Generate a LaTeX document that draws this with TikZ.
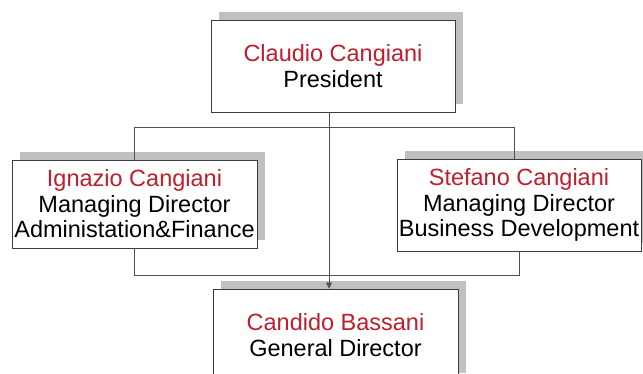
\documentclass[tikz,border=0pt]{standalone}
\usepackage{fontspec}
\setmainfont{Liberation Sans}
\usetikzlibrary{arrows.meta,calc,shadows}
\definecolor{namered}{RGB}{190,30,45}
\definecolor{shadowgray}{RGB}{192,192,192}
\definecolor{boxline}{RGB}{60,60,60}
\definecolor{linegray}{RGB}{80,80,80}
\begin{document}
\begin{tikzpicture}[x=1pt,y=-1pt,
  person/.style={rectangle, draw=boxline, line width=0.8pt, fill=white,
    align=center, inner sep=0pt, font=\fontsize{23.5}{25.5}\selectfont,
    drop shadow={shadow xshift=8pt, shadow yshift=8pt, fill=shadowgray, opacity=1}},
  conn/.style={draw=linegray, line width=0.8pt}]
\useasboundingbox (0,0) rectangle (643,374);

% boxes of the organisation chart
\node[person, minimum width=244pt, minimum height=92pt] (pres) at (333,66)
  {\textcolor{namered}{Claudio Cangiani}\\President};
\node[person, minimum width=245pt, minimum height=88pt] (ign) at (134.5,204)
  {\textcolor{namered}{Ignazio Cangiani}\\Managing Director\\Administation\&Finance};
\node[person, minimum width=244pt, minimum height=92pt] (ste) at (519,205)
  {\textcolor{namered}{Stefano Cangiani}\\Managing Director\\Business Development};
\node[person, minimum width=245pt, minimum height=92pt] (gd) at (335.5,335)
  {\textcolor{namered}{Candido Bassani}\\General Director};

% reference points of the connectors
\coordinate (trunk) at (329,0);
\coordinate (busT) at (0,127);
\coordinate (busB) at (0,275);
\coordinate (sTop) at ($(ste.north)+(-5,0)$);

% connectors
\draw[conn] (ign.north) |- (busT -| sTop) -- (sTop);
\draw[conn] (ign.south) |- (busB -| ste.south) -- (ste.south);
\draw[conn, -{Triangle[length=6pt,width=6pt]}] (pres.south -| trunk) -- (gd.north -| trunk);
\end{tikzpicture}
\end{document}
